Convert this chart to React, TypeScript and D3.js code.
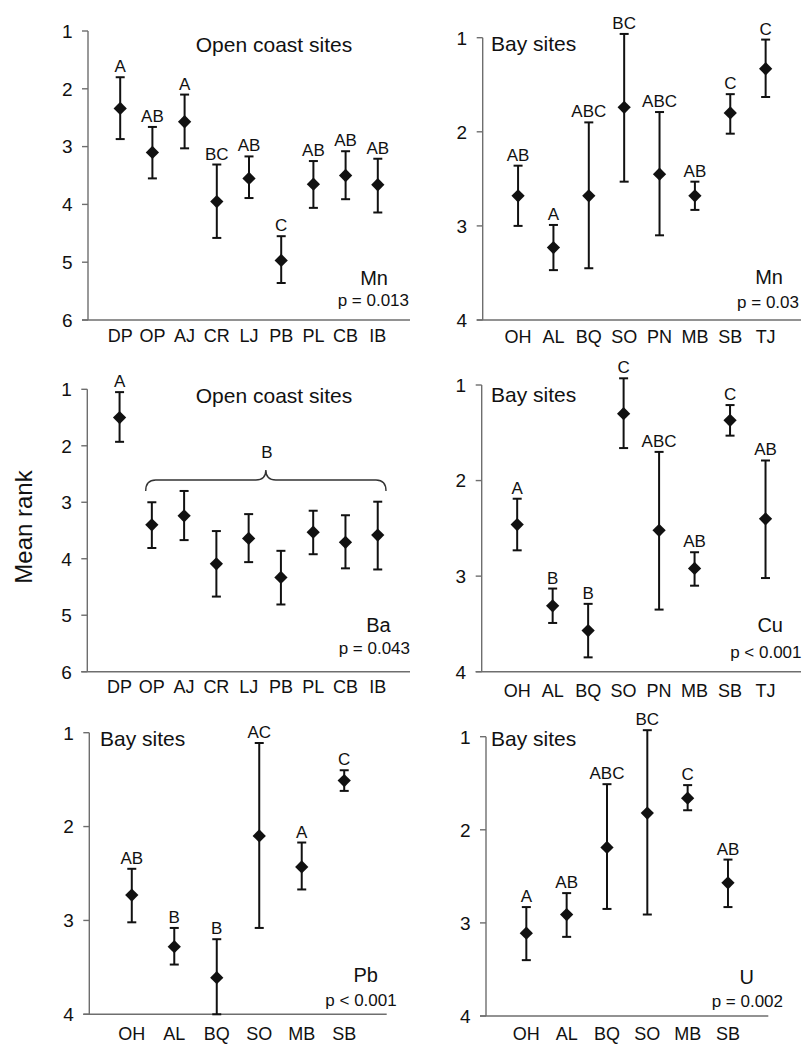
import React from "react";
import * as d3 from "d3";

// ---------- data ----------
const openSites = ["DP", "OP", "AJ", "CR", "LJ", "PB", "PL", "CB", "IB"];
const baySites8 = ["OH", "AL", "BQ", "SO", "PN", "MB", "SB", "TJ"];
const baySites6 = ["OH", "AL", "BQ", "SO", "MB", "SB"];

const mnOpenMean = [2.34, 3.1, 2.57, 3.95, 3.55, 4.97, 3.65, 3.5, 3.66];
const mnOpenLow = [1.8, 2.66, 2.1, 3.31, 3.17, 4.55, 3.25, 3.08, 3.21];
const mnOpenHigh = [2.87, 3.55, 3.03, 4.58, 3.89, 5.36, 4.06, 3.91, 4.14];
const mnOpenLetters = ["A", "AB", "A", "BC", "AB", "C", "AB", "AB", "AB"];

const mnBayMean = [2.68, 3.23, 2.68, 1.74, 2.45, 2.68, 1.8, 1.33];
const mnBayLow = [2.36, 2.99, 1.9, 0.96, 1.79, 2.53, 1.6, 1.02];
const mnBayHigh = [3.0, 3.47, 3.45, 2.53, 3.1, 2.83, 2.02, 1.63];
const mnBayLetters = ["AB", "A", "ABC", "BC", "ABC", "AB", "C", "C"];

const baOpenMean = [1.5, 3.4, 3.24, 4.09, 3.64, 4.33, 3.53, 3.71, 3.58];
const baOpenLow = [1.05, 3.0, 2.8, 3.51, 3.21, 3.86, 3.15, 3.23, 2.99];
const baOpenHigh = [1.93, 3.81, 3.67, 4.67, 4.06, 4.81, 3.92, 4.17, 4.19];
const baOpenLetters = ["A", "", "", "", "", "", "", "", ""];

const cuBayMean = [2.46, 3.31, 3.57, 1.3, 2.52, 2.92, 1.37, 2.4];
const cuBayLow = [2.19, 3.13, 3.29, 0.93, 1.7, 2.75, 1.21, 1.79];
const cuBayHigh = [2.73, 3.49, 3.85, 1.66, 3.35, 3.1, 1.53, 3.02];
const cuBayLetters = ["A", "B", "B", "C", "ABC", "AB", "C", "AB"];

const pbBayMean = [2.73, 3.28, 3.61, 2.1, 2.43, 1.51];
const pbBayLow = [2.45, 3.08, 3.2, 1.11, 2.17, 1.4];
const pbBayHigh = [3.02, 3.47, 4.0, 3.08, 2.67, 1.62];
const pbBayLetters = ["AB", "B", "B", "AC", "A", "C"];

const uBayMean = [3.11, 2.91, 2.19, 1.82, 1.66, 2.57];
const uBayLow = [2.83, 2.68, 1.51, 0.93, 1.52, 2.32];
const uBayHigh = [3.4, 3.15, 2.85, 2.91, 1.79, 2.83];
const uBayLetters = ["A", "AB", "ABC", "BC", "C", "AB"];

const ticks6 = [1, 2, 3, 4, 5, 6];
const ticks4 = [1, 2, 3, 4];

// ---------- layout ----------
const FONT = "'Liberation Sans', Arial, Helvetica, sans-serif";
const AXIS = "#6e6e6e";
const INK = "#111";

type PanelCfg = {
  cats: string[];
  mean: number[];
  low: number[];
  high: number[];
  letters: string[];
  ticks: number[];
  axisX: number;
  xEnd: number;
  top: number;
  bottom: number;
  labelY: number;
  title: string;
  titleX: number;
  titleY: number;
  titleAnchor: "start" | "middle";
  element: string;
  elX: number;
  elY: number;
  pText: string;
  pX: number;
  pY: number;
  brace?: { x1: number; x2: number; y: number; label: string };
};

const panels: PanelCfg[] = [
  {
    cats: openSites, mean: mnOpenMean, low: mnOpenLow, high: mnOpenHigh, letters: mnOpenLetters,
    ticks: ticks6, axisX: 88, xEnd: 410, top: 31, bottom: 320, labelY: 342,
    title: "Open coast sites", titleX: 274, titleY: 52, titleAnchor: "middle",
    element: "Mn", elX: 388, elY: 285, pText: "p = 0.013", pX: 409, pY: 306,
  },
  {
    cats: baySites8, mean: mnBayMean, low: mnBayLow, high: mnBayHigh, letters: mnBayLetters,
    ticks: ticks4, axisX: 482.7, xEnd: 801, top: 37.7, bottom: 320, labelY: 343,
    title: "Bay sites", titleX: 491, titleY: 50.7, titleAnchor: "start",
    element: "Mn", elX: 783, elY: 284, pText: "p = 0.03", pX: 799, pY: 308,
  },
  {
    cats: openSites, mean: baOpenMean, low: baOpenLow, high: baOpenHigh, letters: baOpenLetters,
    ticks: ticks6, axisX: 87.3, xEnd: 410, top: 389.3, bottom: 671.7, labelY: 693,
    title: "Open coast sites", titleX: 274, titleY: 402.7, titleAnchor: "middle",
    element: "Ba", elX: 390.7, elY: 631.7, pText: "p = 0.043", pX: 410, pY: 654,
    brace: { x1: 145.7, x2: 386, y: 491, label: "B" },
  },
  {
    cats: baySites8, mean: cuBayMean, low: cuBayLow, high: cuBayHigh, letters: cuBayLetters,
    ticks: ticks4, axisX: 481.7, xEnd: 801, top: 385, bottom: 671.7, labelY: 697,
    title: "Bay sites", titleX: 491, titleY: 401.7, titleAnchor: "start",
    element: "Cu", elX: 783, elY: 631.7, pText: "p < 0.001", pX: 801.5, pY: 658,
  },
  {
    cats: baySites6, mean: pbBayMean, low: pbBayLow, high: pbBayHigh, letters: pbBayLetters,
    ticks: ticks4, axisX: 89.3, xEnd: 386.7, top: 732.7, bottom: 1014.3, labelY: 1040,
    title: "Bay sites", titleX: 100, titleY: 745.7, titleAnchor: "start",
    element: "Pb", elX: 378, elY: 981.7, pText: "p < 0.001", pX: 396.7, pY: 1006,
  },
  {
    cats: baySites6, mean: uBayMean, low: uBayLow, high: uBayHigh, letters: uBayLetters,
    ticks: ticks4, axisX: 486, xEnd: 768.3, top: 736.7, bottom: 1016, labelY: 1040,
    title: "Bay sites", titleX: 491, titleY: 745.7, titleAnchor: "start",
    element: "U", elX: 754, elY: 984, pText: "p = 0.002", pX: 783, pY: 1006.7,
  },
];

const diamond = d3.symbol(d3.symbolSquare, 88)();

function bracePath(x1: number, x2: number, yEnd: number) {
  const yMid = yEnd - 11;
  const yTip = yEnd - 21;
  const xm = (x1 + x2) / 2;
  const r = 10;
  const p = d3.path();
  p.moveTo(x1, yEnd);
  p.quadraticCurveTo(x1, yMid, x1 + r, yMid);
  p.lineTo(xm - r, yMid);
  p.quadraticCurveTo(xm, yMid, xm, yTip);
  p.quadraticCurveTo(xm, yMid, xm + r, yMid);
  p.lineTo(x2 - r, yMid);
  p.quadraticCurveTo(x2, yMid, x2, yEnd);
  return p.toString();
}

function Panel({ cfg }: { cfg: PanelCfg }) {
  const n = cfg.cats.length;
  const xs = d3.scaleLinear().domain([0, n + 1]).range([cfg.axisX, cfg.xEnd]);
  const yMax = cfg.ticks[cfg.ticks.length - 1];
  const y = d3.scaleLinear().domain([1, yMax]).range([cfg.top, cfg.bottom]);
  const capW = 4.5;
  return (
    <g>
      <line x1={cfg.axisX} x2={cfg.axisX} y1={y(1)} y2={y(yMax)} stroke={AXIS} strokeWidth={1.4} />
      <line x1={cfg.axisX - 6} x2={cfg.xEnd} y1={y(yMax)} y2={y(yMax)} stroke={AXIS} strokeWidth={1.4} />
      {cfg.ticks.map((t) => (
        <g key={t}>
          <line x1={cfg.axisX - 6} x2={cfg.axisX} y1={y(t)} y2={y(t)} stroke={AXIS} strokeWidth={1.4} />
          <text x={cfg.axisX - 15.5} y={y(t)} dy="0.36em" textAnchor="end" fontSize={19} fill={INK}>
            {t}
          </text>
        </g>
      ))}
      {cfg.cats.map((c, i) => (
        <text key={c + i} x={xs(i + 1)} y={cfg.labelY} textAnchor="middle" fontSize={18} fill={INK}>
          {c}
        </text>
      ))}
      {cfg.cats.map((c, i) => {
        const cx = xs(i + 1);
        const yl = y(cfg.low[i]);
        const yh = y(cfg.high[i]);
        return (
          <g key={"e" + i} stroke={INK} strokeWidth={2}>
            <line x1={cx} x2={cx} y1={yl} y2={yh} />
            <line x1={cx - capW} x2={cx + capW} y1={yl} y2={yl} />
            <line x1={cx - capW} x2={cx + capW} y1={yh} y2={yh} />
          </g>
        );
      })}
      {cfg.cats.map((c, i) => (
        <path
          key={"d" + i}
          d={diamond || ""}
          transform={`translate(${xs(i + 1)},${y(cfg.mean[i])}) rotate(45)`}
          fill={INK}
        />
      ))}
      {cfg.cats.map((c, i) =>
        cfg.letters[i] ? (
          <text key={"l" + i} x={xs(i + 1)} y={y(cfg.low[i]) - 5} textAnchor="middle" fontSize={17} fill={INK}>
            {cfg.letters[i]}
          </text>
        ) : null
      )}
      {cfg.brace && (
        <g>
          <path d={bracePath(cfg.brace.x1, cfg.brace.x2, cfg.brace.y)} fill="none" stroke="#333" strokeWidth={1.4} />
          <text
            x={(cfg.brace.x1 + cfg.brace.x2) / 2 + 1}
            y={cfg.brace.y - 33}
            textAnchor="middle"
            fontSize={17}
            fill={INK}
          >
            {cfg.brace.label}
          </text>
        </g>
      )}
      <text x={cfg.titleX} y={cfg.titleY} textAnchor={cfg.titleAnchor} fontSize={21} fill={INK}>
        {cfg.title}
      </text>
      <text x={cfg.elX} y={cfg.elY} textAnchor="end" fontSize={20} fill={INK}>
        {cfg.element}
      </text>
      <text x={cfg.pX} y={cfg.pY} textAnchor="end" fontSize={17} fill={INK}>
        {cfg.pText}
      </text>
    </g>
  );
}

export default function App() {
  return (
    <svg
      width={803}
      height={1044}
      style={{ position: "absolute", left: 0, top: 0, background: "#fff" }}
      fontFamily={FONT}
    >
      <rect x={0} y={0} width={803} height={1044} fill="#fff" />
      {panels.map((p, i) => (
        <Panel key={i} cfg={p} />
      ))}
      <text x={31.5} y={527} transform="rotate(-90 31.5 527)" textAnchor="middle" fontSize={24} fill={INK}>
        Mean rank
      </text>
    </svg>
  );
}
